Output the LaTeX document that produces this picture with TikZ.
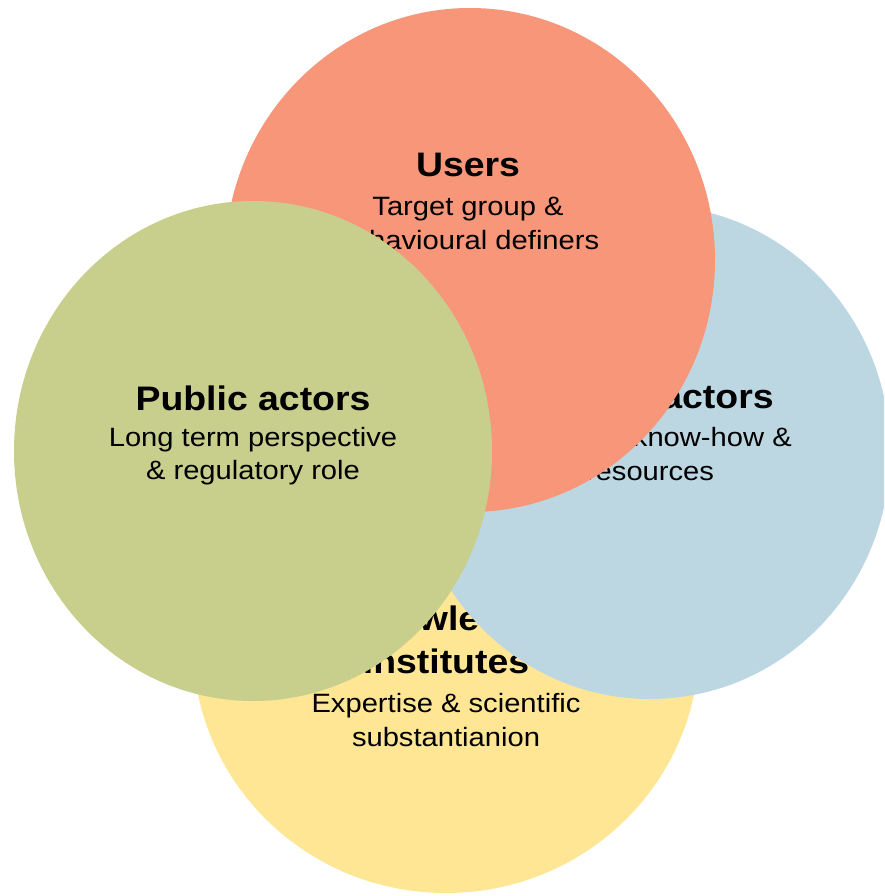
\documentclass[tikz,border=0pt]{standalone}
\usepackage{fontspec}
\setmainfont{Liberation Sans}[FakeStretch=1.1]
\definecolor{kyellow}{RGB}{254,230,148}
\definecolor{pblue}{RGB}{189,215,226}
\definecolor{ured}{RGB}{247,150,121}
\definecolor{agreen}{RGB}{200,207,140}

\begin{document}
\begin{tikzpicture}[x=1pt, y=-1pt,
  head/.style={font=\fontsize{34}{40}\selectfont\bfseries, anchor=base, inner sep=0pt},
  sub/.style={font=\fontsize{26.5}{32}\selectfont, anchor=base, inner sep=0pt}]
\useasboundingbox (0,0) rectangle (884,896);
\clip (0,0) rectangle (884,896);

\coordinate (K) at (446,645);
\coordinate (P) at (650,452);
\coordinate (U) at (470,260);
\coordinate (A) at (253,451);

% knowledge institutes (bottom)
\fill[kyellow] (K) ellipse [x radius=253pt, y radius=248pt];
\node[head] (k1) at (446,630) {Knowledge};
\node[head] (k2) at (446,673) {institutes};
\node[sub]  (k3) at (446,712) {Expertise \& scientific};
\node[sub]  (k4) at (446,746) {substantianion};

% private actors
\fill[pblue] (P) ellipse [x radius=240pt, y radius=247pt];
\node[head] (p1) at (650,408) {Private actors};
\node[sub]  (p2) at (650,446) {Financial know-how \&};
\node[sub]  (p3) at (650,480) {resources};

% users
\fill[ured] (U) ellipse [x radius=245pt, y radius=252pt];
\node[head] (u1) at (468,177) {Users};
\node[sub]  (u2) at (468,215) {Target group \&};
\node[sub]  (u3) at (468,249) {behavioural definers};

% public actors (top)
\fill[agreen] (A) ellipse [x radius=239pt, y radius=250pt];
\node[head] (a1) at (253,410) {Public actors};
\node[sub]  (a2) at (253,446) {Long term perspective};
\node[sub]  (a3) at (253,479) {\& regulatory role};

\end{tikzpicture}
\end{document}
